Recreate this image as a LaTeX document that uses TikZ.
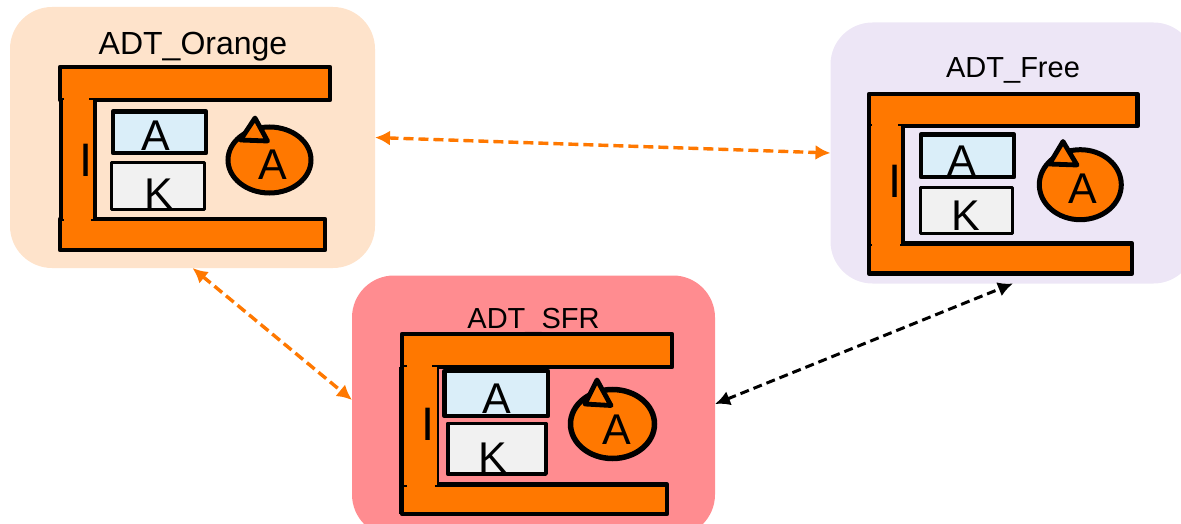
\documentclass[tikz,border=0pt]{standalone}
\usepackage{fontspec}
\setmainfont{Liberation Sans}
\usetikzlibrary{arrows.meta}
\definecolor{cbar}{HTML}{FF7800}
\definecolor{cpeach}{HTML}{FEE3CB}
\definecolor{clilac}{HTML}{EDE6F6}
\definecolor{cred}{HTML}{FF8C90}
\definecolor{cblue}{HTML}{DAEEF9}
\definecolor{cgrey}{HTML}{F1F1F1}
\tikzset{
  panel/.style={rounded corners=42pt,inner sep=0pt,outer sep=0pt},
  barpart/.style={draw=black,fill=cbar,line width=4.6pt,line join=round},
  patch/.style={fill=cbar,draw=none},
  wall/.style={draw=black,line width=3.6pt},
  akey/.style={draw=black,fill=cblue,line width=4.5pt,line join=round},
  kkey/.style={draw=black,fill=cgrey,line width=3.6pt,line join=round},
  bubble/.style={draw=black,fill=cbar,line width=5pt},
  txt/.style={inner sep=0pt,outer sep=0pt,anchor=base,text=black},
  big/.style={txt,font=\fontsize{43}{43}\selectfont},
  tall/.style={txt,font=\fontsize{47}{47}\selectfont},
  oarrow/.style={draw=cbar,line width=3.4pt,dash pattern=on 10pt off 5pt,{Latex[length=15pt,width=15pt]}-{Latex[length=15pt,width=15pt]}},
  karrow/.style={draw=black,line width=3pt,dash pattern=on 9pt off 5pt,{Latex[length=15pt,width=15pt]}-{Latex[length=15pt,width=15pt]}},
}
\begin{document}
\begin{tikzpicture}[x=1pt,y=-1pt]
\useasboundingbox (0,0) rectangle (1181,524);
\clip (0,0) rectangle (1181,524);
% panels
\node[panel,fill=cpeach,minimum width=365pt,minimum height=261pt] (po) at (192.5,137.5) {};
\node[panel,fill=clilac,minimum width=365pt,minimum height=261pt] (pf) at (1013,153) {};
\node[panel,fill=cred,minimum width=363pt,minimum height=261pt] (ps) at (533.5,406) {};
% connectors
\draw[oarrow] (po.east) -- (pf.west);
\draw[oarrow] (po.south) -- ([yshift=6pt]ps.west);
\draw[karrow] ([yshift=2pt]ps.east) -- (pf.south);
% ADT_Orange
\node[txt,font=\fontsize{32}{32}\selectfont] (lo) at (193,55) {ADT\_Orange};
\draw[barpart] (60,67) rectangle (330,100);
\draw[barpart] (60,219) rectangle (325,250);
\fill[patch] (61,100) rectangle (94,219);
\fill[patch] (64,96) rectangle (89,104);
\fill[patch] (64,215) rectangle (91,223);
\draw[wall] (61,100) -- (61,219) (95,100) -- (95,219);
\draw[akey] (113,111.5) rectangle (206,153);
\draw[kkey] (111.5,162.5) rectangle (204.5,209.5);
\node[big] (ao) at (155.5,150) {A};
\node[big] (ko) at (158.5,208) {K};
\node[tall] (io) at (85.8,176.7) {I};
\draw[bubble] (269.5,160) ellipse [x radius=41.5pt,y radius=33pt];
\draw[barpart,line width=4.8pt] (255,118) -- (240.5,140) -- (267.5,141) -- cycle;
\node[big] (co) at (273,179.5) {A};
% ADT_Free
\node[txt,font=\fontsize{29}{29}\selectfont] (lf) at (1013,77.7) {ADT\_Free};
\draw[barpart] (869,94) rectangle (1137.5,126);
\draw[barpart] (869,243.5) rectangle (1132,273.5);
\fill[patch] (869,126) rectangle (902,243.5);
\fill[patch] (871.5,122) rectangle (898,130);
\fill[patch] (871.5,239) rectangle (900,248);
\draw[wall,line width=4.6pt] (869,120) -- (869,250);
\draw[wall] (902.7,126) -- (902.7,243.5);
\draw[akey] (921,134.5) rectangle (1014,177);
\draw[kkey] (920.5,187.5) rectangle (1012.5,233.5);
\node[big] (af) at (962,175.7) {A};
\node[big] (kf) at (965.7,230) {K};
\node[tall] (if) at (895,197) {I};
\draw[bubble] (1080.3,184.7) ellipse [x radius=41pt,y radius=35pt];
\draw[barpart,line width=4.8pt] (1063,141.5) -- (1049.5,164) -- (1077,165) -- cycle;
\node[big] (cf) at (1083,204) {A};
% ADT_SFR
\node[txt,font=\fontsize{29}{29}\selectfont] (ls) at (533.5,328) {ADT\_SFR};
\draw[barpart] (402,334) rectangle (672,367);
\draw[barpart] (402,484.5) rectangle (667,514);
\fill[patch] (402,367) rectangle (437,484.5);
\fill[patch] (407,363) rectangle (432,371);
\fill[patch] (407,480) rectangle (435,488);
\draw[wall,line width=5pt] (401.5,367) -- (401.5,514);
\draw[wall,line width=2.5pt] (438,367) -- (438,484.5);
\draw[akey,line width=4.8pt] (444.5,371) rectangle (548,416);
\draw[kkey] (447.7,423.5) rectangle (546,474);
\node[big] (as) at (496.5,413) {A};
\node[big] (ks) at (492.7,472) {K};
\node[tall] (is) at (428.5,440) {I};
\draw[bubble,line width=5.5pt] (612.5,424) ellipse [x radius=42pt,y radius=34.5pt];
\draw[barpart,line width=4.8pt] (597,380) -- (585,404) -- (611,405.5) -- cycle;
\node[big] (cs) at (616.5,444.5) {A};
\end{tikzpicture}
\end{document}
